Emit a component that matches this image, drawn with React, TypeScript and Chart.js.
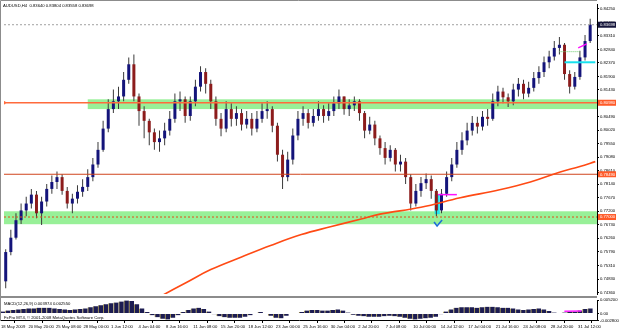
import React, { useEffect, useRef } from "react";
import { Chart, registerables } from "chart.js";

Chart.register(...registerables);

const FONT = "'Liberation Sans', Arial, sans-serif";

// ---- price data (12-hour groups of the 4h bars) ----
const OPEN = [
  0.7476, 0.7578, 0.7628, 0.7689, 0.7723, 0.7747, 0.7778, 0.7713, 0.7754, 0.7798,
  0.7822, 0.7839, 0.7791, 0.7747, 0.7764, 0.7788, 0.7805, 0.7839, 0.7883, 0.7934,
  0.8008, 0.8076, 0.8103, 0.8120, 0.8178, 0.8232, 0.8120, 0.8069, 0.8035, 0.7995,
  0.7961, 0.7974, 0.8001, 0.8042, 0.8103, 0.8110, 0.8052, 0.8103, 0.8154, 0.8205,
  0.8164, 0.8103, 0.8042, 0.8008, 0.8076, 0.8042, 0.8062, 0.8022, 0.8042, 0.8008,
  0.8042, 0.8069, 0.8076, 0.8018, 0.7917, 0.7839, 0.7900, 0.7984, 0.8042, 0.8062,
  0.8028, 0.8052, 0.8076, 0.8052, 0.8069, 0.8096, 0.8120, 0.8076, 0.8089, 0.8103,
  0.8062, 0.8001, 0.8022, 0.7974, 0.7940, 0.7906, 0.7934, 0.7883, 0.7893, 0.7839,
  0.7747, 0.7791, 0.7818, 0.7832, 0.7791, 0.7723, 0.7781, 0.7839, 0.7883, 0.7934,
  0.7967, 0.8001, 0.8028, 0.8015, 0.8049, 0.8042, 0.8103, 0.8137, 0.8117, 0.8103,
  0.8144, 0.8164, 0.8130, 0.8150, 0.8184, 0.8205, 0.8239, 0.8259, 0.8289, 0.8300,
  0.8198, 0.8154, 0.8188, 0.8256, 0.8313,
];
const HIGH = [
  0.7588, 0.7656, 0.7713, 0.7747, 0.7771, 0.7798, 0.7791, 0.7771, 0.7815, 0.7845,
  0.7859, 0.7849, 0.7805, 0.7781, 0.7811, 0.7832, 0.7866, 0.7906, 0.7961, 0.8035,
  0.8110, 0.8144, 0.8154, 0.8205, 0.8256, 0.8266, 0.8130, 0.8086, 0.8042, 0.8008,
  0.8001, 0.8028, 0.8069, 0.8130, 0.8137, 0.8120, 0.8120, 0.8178, 0.8225, 0.8218,
  0.8178, 0.8120, 0.8062, 0.8103, 0.8096, 0.8086, 0.8076, 0.8069, 0.8062, 0.8069,
  0.8096, 0.8103, 0.8086, 0.8028, 0.7934, 0.7927, 0.8008, 0.8069, 0.8086, 0.8076,
  0.8076, 0.8103, 0.8089, 0.8096, 0.8120, 0.8144, 0.8120, 0.8110, 0.8120, 0.8110,
  0.8069, 0.8049, 0.8035, 0.7984, 0.7961, 0.7950, 0.7940, 0.7917, 0.7906, 0.7849,
  0.7815, 0.7839, 0.7852, 0.7845, 0.7798, 0.7798, 0.7859, 0.7906, 0.7961, 0.7995,
  0.8028, 0.8052, 0.8049, 0.8069, 0.8076, 0.8130, 0.8157, 0.8150, 0.8130, 0.8164,
  0.8184, 0.8178, 0.8171, 0.8205, 0.8225, 0.8259, 0.8279, 0.8313, 0.8327, 0.8306,
  0.8211, 0.8205, 0.8279, 0.8334, 0.8391,
];
const LOW = [
  0.7452, 0.7567, 0.7622, 0.7676, 0.7703, 0.7730, 0.7696, 0.7672, 0.7737, 0.7781,
  0.7798, 0.7778, 0.7730, 0.7713, 0.7747, 0.7771, 0.7791, 0.7825, 0.7872, 0.7927,
  0.7995, 0.8062, 0.8076, 0.8103, 0.8164, 0.8103, 0.8018, 0.7974, 0.7950, 0.7934,
  0.7927, 0.7950, 0.7984, 0.8028, 0.8069, 0.8028, 0.8035, 0.8086, 0.8137, 0.8130,
  0.8076, 0.8018, 0.7981, 0.7995, 0.8015, 0.8018, 0.8001, 0.8008, 0.7984, 0.7995,
  0.8028, 0.8042, 0.7995, 0.7893, 0.7798, 0.7825, 0.7883, 0.7967, 0.8018, 0.8008,
  0.8015, 0.8035, 0.8028, 0.8035, 0.8052, 0.8076, 0.8056, 0.8052, 0.8069, 0.8035,
  0.7974, 0.7988, 0.7950, 0.7917, 0.7883, 0.7893, 0.7859, 0.7859, 0.7815, 0.7723,
  0.7737, 0.7771, 0.7798, 0.7764, 0.7703, 0.7713, 0.7771, 0.7825, 0.7872, 0.7917,
  0.7950, 0.7984, 0.7991, 0.8001, 0.8018, 0.8035, 0.8086, 0.8096, 0.8083, 0.8089,
  0.8120, 0.8110, 0.8117, 0.8137, 0.8164, 0.8188, 0.8218, 0.8245, 0.8266, 0.8178,
  0.8130, 0.8144, 0.8178, 0.8245, 0.8306,
];
const CLOSE = [
  0.7578, 0.7628, 0.7689, 0.7723, 0.7747, 0.7778, 0.7713, 0.7754, 0.7798, 0.7822,
  0.7839, 0.7791, 0.7747, 0.7764, 0.7788, 0.7805, 0.7839, 0.7883, 0.7934, 0.8008,
  0.8076, 0.8103, 0.8120, 0.8178, 0.8232, 0.8120, 0.8069, 0.8035, 0.7995, 0.7961,
  0.7974, 0.8001, 0.8042, 0.8103, 0.8110, 0.8052, 0.8103, 0.8154, 0.8205, 0.8164,
  0.8103, 0.8042, 0.8008, 0.8076, 0.8042, 0.8062, 0.8022, 0.8042, 0.8008, 0.8042,
  0.8069, 0.8076, 0.8018, 0.7917, 0.7839, 0.7900, 0.7984, 0.8042, 0.8062, 0.8028,
  0.8052, 0.8076, 0.8052, 0.8069, 0.8096, 0.8120, 0.8076, 0.8089, 0.8103, 0.8062,
  0.8001, 0.8022, 0.7974, 0.7940, 0.7906, 0.7934, 0.7883, 0.7893, 0.7839, 0.7747,
  0.7791, 0.7818, 0.7832, 0.7791, 0.7723, 0.7781, 0.7839, 0.7883, 0.7934, 0.7967,
  0.8001, 0.8028, 0.8015, 0.8049, 0.8042, 0.8103, 0.8137, 0.8117, 0.8103, 0.8144,
  0.8164, 0.8130, 0.8150, 0.8184, 0.8205, 0.8239, 0.8259, 0.8289, 0.8300, 0.8198,
  0.8154, 0.8188, 0.8256, 0.8313, 0.8370,
];

// MACD(12,26,9) histogram, one value per candle group
const MACD_HIST = [
  0.0008, 0.0012, 0.0014, 0.0016, 0.0018, 0.0020, 0.0020, 0.0022, 0.0022, 0.0022,
  0.0020, 0.0018, 0.0016, 0.0014, 0.0016, 0.0018, 0.0020, 0.0024, 0.0028, 0.0032,
  0.0036, 0.0040, 0.0042, 0.0046, 0.0050, 0.0048, 0.0036, 0.0020, 0.0006, -0.0006,
  -0.0014, -0.0020, -0.0022, -0.0016, -0.0006, 0.0006, 0.0014, 0.0020, 0.0022, 0.0018,
  0.0008, -0.0002, -0.0010, -0.0014, -0.0016, -0.0016, -0.0016, -0.0012, -0.0006, 0.0002,
  0.0006, 0.0000, -0.0008, -0.0016, -0.0018, -0.0008, 0.0000, 0.0002, 0.0006, 0.0012,
  0.0014, 0.0014, 0.0012, 0.0012, 0.0014, 0.0016, 0.0012, 0.0004, -0.0004, -0.0008,
  -0.0010, -0.0012, -0.0012, -0.0012, -0.0010, -0.0008, -0.0010, -0.0012, -0.0016, -0.0020,
  -0.0022, -0.0020, -0.0018, -0.0016, -0.0012, -0.0002, 0.0008, 0.0016, 0.0022, 0.0024,
  0.0024, 0.0024, 0.0022, 0.0024, 0.0026, 0.0026, 0.0024, 0.0022, 0.0022, 0.0020,
  0.0016, 0.0014, 0.0016, 0.0018, 0.0020, 0.0016, 0.0010, 0.0004, 0.0002, 0.0004,
  0.0008, 0.0008, 0.0012, 0.0018, 0.0020,
];
const SIGNAL_X = [328, 338];
const SIGNAL_Y = [0.0009, 0.0010];

// moving average (orange curve), bar index -> price
const MA_X = [92, 107, 121, 139, 156, 174, 191, 209, 220, 244, 267, 290, 308, 325, 337, 346];
const MA_Y = [0.7425, 0.7473, 0.7517, 0.7561, 0.7601, 0.7639, 0.7666, 0.7693, 0.7710, 0.7734, 0.7767, 0.7795, 0.7822, 0.7856, 0.7876, 0.7893];

// horizontal levels
const BID = 0.83698;
const LEVEL_HIGH = 0.8098;
const LEVEL_MID = 0.7849;
const LEVEL_LOW = 0.7700;
const ZONE_HIGH = [0.8110, 0.8076];
const ZONE_HIGH_FROM = 49;
const ZONE_LOW = [0.7720, 0.7675];
const CYAN_LEVEL = 0.8239;
const CYAN_FROM_TO = [328, 346];
const GREEN_DOT_LEVEL = 0.8276;
const GREEN_DOT_FROM_TO = [325, 337];
const MAGENTA_UP_X = [336, 341];
const MAGENTA_UP_Y = [0.8289, 0.8303];
const MAGENTA_FLAT_LEVEL = 0.7778;
const MAGENTA_FLAT_FROM_TO = [254, 265];
const CYAN_BOX = { x0: 252, x1: 255, top: 0.7778, bottom: 0.7710 };
const CHECK_AT = { x: 254, y: 0.7676 };

// axes
const BAR_COUNT = 347;
const PRICE_MIN = 0.74319;
const PRICE_MAX = 0.8442;
const Y_TICKS = [
  0.8425, 0.8378, 0.8331, 0.8284, 0.8237, 0.8190, 0.8143, 0.8096, 0.8049, 0.8002,
  0.7955, 0.7908, 0.7861, 0.7814, 0.7767, 0.7720, 0.7673, 0.7626, 0.7579, 0.7531,
  0.7483, 0.7436,
];
const MACD_MIN = -0.0028;
const MACD_MAX = 0.0052;
const MACD_TICKS = [0.0052, 0, -0.0028];
const X_TICKS = [0, 16, 32, 48, 64, 80, 96, 112, 128, 144, 160, 176, 192, 208, 224, 240, 256, 272, 288, 304, 320, 336];
const X_LABELS = [
  "18 May 2009", "20 May 20:00", "25 May 08:00", "28 May 00:00", "1 Jun 12:00", "4 Jun 04:00",
  "8 Jun 16:00", "11 Jun 08:00", "15 Jun 20:00", "18 Jun 12:00", "23 Jun 00:00", "25 Jun 16:00",
  "30 Jun 04:00", "2 Jul 20:00", "7 Jul 08:00", "10 Jul 00:00", "14 Jul 12:00", "17 Jul 04:00",
  "21 Jul 16:00", "24 Jul 08:00", "28 Jul 20:00", "31 Jul 12:00",
];
const HEADER = "AUDUSD,H4  0.83640 0.83804 0.83558 0.83698";
const MACD_TITLE = "MACD(12,26,9) 0.003974 0.002550";
const COPYRIGHT = "FxPro MT4, \u00a9 2001-2008 MetaQuotes Software Corp.";

const AXIS_W = 28;
const BULL = "#14147a";
const BEAR = "#8c1c1c";
const WICK = "#3a3a3a";
const ORANGE = "#ff5a28";
const GREEN = "#98f098";
const TXT = 4.2;

const candleX = (i: number) => 1 + 3 * i;

function drawText(ctx: CanvasRenderingContext2D, s: string, x: number, y: number, color = "#000", align: CanvasTextAlign = "left") {
  ctx.save();
  ctx.font = `${TXT}px ${FONT}`;
  ctx.fillStyle = color;
  ctx.textAlign = align;
  ctx.textBaseline = "middle";
  ctx.fillText(s, x, y);
  ctx.restore();
}

function levelLine(y: number, color: string, width: number, dash: number[] = [], from = 0, to = BAR_COUNT) {
  return {
    type: "line" as const,
    data: [{ x: from, y }, { x: to, y }],
    borderColor: color,
    borderWidth: width,
    borderDash: dash,
    pointRadius: 0,
    order: 0,
  };
}

function mainConfig(): any {
  const mainPlugin = {
    id: "mt4main",
    beforeDatasetsDraw(chart: any) {
      const { ctx, chartArea, scales } = chart;
      const x = scales.x, y = scales.y;
      ctx.save();
      ctx.fillStyle = GREEN;
      const z1t = y.getPixelForValue(ZONE_HIGH[0]);
      const z1b = y.getPixelForValue(ZONE_HIGH[1]);
      const z1x = x.getPixelForValue(ZONE_HIGH_FROM);
      ctx.fillRect(z1x, z1t, chartArea.right - z1x, z1b - z1t);
      const z2t = y.getPixelForValue(ZONE_LOW[0]);
      const z2b = y.getPixelForValue(ZONE_LOW[1]);
      ctx.fillRect(chartArea.left, z2t, chartArea.right - chartArea.left, z2b - z2t);
      ctx.fillStyle = "#22e4ee";
      const bx0 = x.getPixelForValue(CYAN_BOX.x0), bx1 = x.getPixelForValue(CYAN_BOX.x1);
      const by0 = y.getPixelForValue(CYAN_BOX.top), by1 = y.getPixelForValue(CYAN_BOX.bottom);
      ctx.fillRect(bx0, by0, bx1 - bx0, by1 - by0);
      ctx.restore();
    },
    afterDraw(chart: any) {
      const { ctx, chartArea, scales } = chart;
      const x = scales.x, y = scales.y;
      ctx.save();
      // frame
      ctx.strokeStyle = "#8c8c8c";
      ctx.lineWidth = 1;
      ctx.beginPath();
      ctx.moveTo(0.5, chart.height);
      ctx.lineTo(0.5, 0.5);
      ctx.lineTo(chartArea.right, 0.5);
      ctx.stroke();
      ctx.fillStyle = "#8c8c8c";
      ctx.fillRect(0, chart.height - 2, chartArea.right, 2);
      // check mark
      const cx = x.getPixelForValue(CHECK_AT.x), cy = y.getPixelForValue(CHECK_AT.y);
      ctx.strokeStyle = "#1f6fd6";
      ctx.lineWidth = 1.6;
      ctx.beginPath();
      ctx.moveTo(cx - 4, cy - 2);
      ctx.lineTo(cx - 1, cy + 2);
      ctx.lineTo(cx + 4, cy - 4);
      ctx.stroke();
      // price markers on the axis
      const markers = [
        { v: BID, bg: "#14143a" },
        { v: LEVEL_HIGH, bg: ORANGE },
        { v: LEVEL_MID, bg: ORANGE },
        { v: LEVEL_LOW, bg: ORANGE },
      ];
      for (const m of markers) {
        const py = y.getPixelForValue(m.v);
        ctx.fillStyle = m.bg;
        ctx.fillRect(chartArea.right + 1, py - 3, 18, 6);
        drawText(ctx, m.v.toFixed(5), chartArea.right + 3, py + 0.3, "#fff");
      }
      ctx.restore();
      drawText(ctx, HEADER, 3, 5.5);
    },
  };

  return {
    type: "bar",
    data: {
      datasets: [
        {
          type: "line",
          data: MA_X.map((v, i) => ({ x: v, y: MA_Y[i] })),
          borderColor: "#ff4a14",
          borderWidth: 1.6,
          pointRadius: 0,
          tension: 0.4,
          order: 0,
        },
        levelLine(BID, "#a0a0a0", 1, [2, 2]),
        { ...levelLine(LEVEL_HIGH, "#ff6a3c", 1.5), pointRadius: [1.8, 0], pointBackgroundColor: "#ff6a3c", pointBorderWidth: 0 },
        levelLine(LEVEL_MID, "#d0441c", 1),
        levelLine(LEVEL_LOW, "#e0501c", 1, [2, 2]),
        levelLine(CYAN_LEVEL, "#18e0ee", 2, [], CYAN_FROM_TO[0], CYAN_FROM_TO[1]),
        levelLine(GREEN_DOT_LEVEL, "#6ccc6c", 1, [1, 1], GREEN_DOT_FROM_TO[0], GREEN_DOT_FROM_TO[1]),
        levelLine(MAGENTA_FLAT_LEVEL, "#ff10ff", 1.5, [], MAGENTA_FLAT_FROM_TO[0], MAGENTA_FLAT_FROM_TO[1]),
        {
          type: "line",
          data: MAGENTA_UP_X.map((v, i) => ({ x: v, y: MAGENTA_UP_Y[i] })),
          borderColor: "#ff10ff",
          borderWidth: 1.5,
          pointRadius: 0,
          order: 0,
        },
        {
          type: "bar",
          data: CLOSE.map((_, i) => ({ x: candleX(i), y: [OPEN[i], CLOSE[i]] })),
          backgroundColor: CLOSE.map((c, i) => (c >= OPEN[i] ? BULL : BEAR)),
          borderWidth: 0,
          borderSkipped: false,
          grouped: false,
          maxBarThickness: 3,
          order: 1,
        },
        {
          type: "bar",
          data: CLOSE.map((_, i) => ({ x: candleX(i), y: [LOW[i], HIGH[i]] })),
          backgroundColor: WICK,
          borderWidth: 0,
          borderSkipped: false,
          grouped: false,
          maxBarThickness: 1,
          order: 2,
        },
      ],
    },
    options: {
      responsive: false,
      animation: false,
      events: [],
      layout: { padding: { left: 1, top: 0, right: 0, bottom: 0 } },
      plugins: { legend: { display: false }, tooltip: { enabled: false } },
      scales: {
        x: { type: "linear", min: 0, max: BAR_COUNT, display: false, offset: false },
        y: {
          position: "right",
          min: PRICE_MIN,
          max: PRICE_MAX,
          afterBuildTicks: (s: any) => {
            s.ticks = Y_TICKS.map((v) => ({ value: v }));
          },
          afterFit: (s: any) => {
            s.width = AXIS_W;
            s.paddingTop = 0;
            s.paddingBottom = 0;
          },
          ticks: {
            font: { family: FONT, size: TXT },
            color: "#000",
            padding: 1,
            callback: (v: any) => Number(v).toFixed(5),
          },
          grid: { drawOnChartArea: false, drawTicks: true, tickLength: 2, color: "#000" },
          border: { display: true, color: "#000", width: 1 },
        },
      },
    },
    plugins: [mainPlugin],
  };
}

function macdConfig(): any {
  const macdPlugin = {
    id: "mt4macd",
    afterDraw(chart: any) {
      const { ctx } = chart;
      ctx.save();
      ctx.strokeStyle = "#8c8c8c";
      ctx.beginPath();
      ctx.moveTo(0.5, 0);
      ctx.lineTo(0.5, chart.chartArea.bottom);
      ctx.stroke();
      ctx.restore();
      drawText(ctx, MACD_TITLE, 4, 5.5);
      drawText(ctx, COPYRIGHT, 4, 20);
    },
  };
  return {
    type: "bar",
    data: {
      datasets: [
        {
          type: "line",
          data: SIGNAL_X.map((v, i) => ({ x: v, y: SIGNAL_Y[i] })),
          borderColor: "#ff20ff",
          borderWidth: 1.5,
          pointRadius: 0,
          order: 0,
        },
        {
          type: "bar",
          data: MACD_HIST.map((v, i) => ({ x: candleX(i), y: v })),
          backgroundColor: "#1c1c52",
          borderColor: "#a89a58",
          borderWidth: { left: 1, right: 0, top: 0, bottom: 0 },
          borderSkipped: false,
          barThickness: 5,
          order: 1,
        },
      ],
    },
    options: {
      responsive: false,
      animation: false,
      events: [],
      layout: { padding: { left: 1, top: 2, right: 0, bottom: 0 } },
      plugins: { legend: { display: false }, tooltip: { enabled: false } },
      scales: {
        x: {
          type: "linear",
          min: 0,
          max: BAR_COUNT,
          offset: false,
          afterBuildTicks: (s: any) => {
            s.ticks = X_TICKS.map((v) => ({ value: v }));
          },
          afterFit: (s: any) => {
            s.paddingLeft = 0;
            s.paddingRight = 0;
          },
          ticks: {
            font: { family: FONT, size: TXT },
            color: "#000",
            padding: 1,
            align: "start",
            maxRotation: 0,
            autoSkip: false,
            callback: (_v: any, i: number) => X_LABELS[i],
          },
          grid: { drawOnChartArea: false, drawTicks: true, tickLength: 2, color: "#000" },
          border: { display: true, color: "#000", width: 1 },
        },
        y: {
          position: "right",
          min: MACD_MIN,
          max: MACD_MAX,
          afterBuildTicks: (s: any) => {
            s.ticks = MACD_TICKS.map((v) => ({ value: v }));
          },
          afterFit: (s: any) => {
            s.width = AXIS_W;
            s.paddingTop = 0;
            s.paddingBottom = 0;
          },
          ticks: {
            font: { family: FONT, size: TXT },
            color: "#000",
            padding: 1,
            callback: (v: any) => (Number(v) === 0 ? "0.00" : Number(v).toFixed(6)),
          },
          grid: { drawOnChartArea: false, drawTicks: true, tickLength: 2, color: "#000" },
          border: { display: true, color: "#000", width: 1 },
        },
      },
    },
    plugins: [macdPlugin],
  };
}

export default function App() {
  const mainRef = useRef<HTMLCanvasElement>(null);
  const macdRef = useRef<HTMLCanvasElement>(null);
  useEffect(() => {
    const main = new Chart(mainRef.current as HTMLCanvasElement, mainConfig());
    const macd = new Chart(macdRef.current as HTMLCanvasElement, macdConfig());
    return () => {
      main.destroy();
      macd.destroy();
    };
  }, []);
  return (
    <div style={{ position: "absolute", left: 0, top: 0, width: 625, height: 330, background: "#fff", overflow: "hidden" }}>
      <canvas ref={mainRef} width={625} height={298} style={{ position: "absolute", left: 0, top: 0 }} />
      <canvas ref={macdRef} width={625} height={32} style={{ position: "absolute", left: 0, top: 298 }} />
    </div>
  );
}
